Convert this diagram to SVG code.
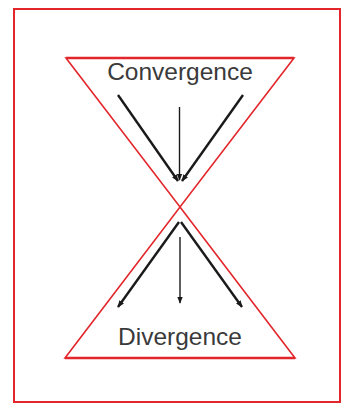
<svg xmlns="http://www.w3.org/2000/svg" width="342" height="405" viewBox="0 0 342 405">
<defs>
<style>
.red{fill:none;stroke:#e3262b;stroke-width:2;stroke-linejoin:miter}
.thin{fill:none;stroke:#e3262b;stroke-width:1.6}
.arr{fill:none;stroke:#1a1a1a;stroke-width:2.4;marker-end:url(#ah)}
.mid{fill:none;stroke:#1a1a1a;stroke-width:1.4;marker-end:url(#ah)}
.lbl{font-family:"Liberation Sans",Arial,sans-serif;font-size:24.5px;fill:#3a3a3a;text-anchor:middle}
</style>
<marker id="ah" viewBox="0 0 10 10" refX="9" refY="5" markerWidth="7" markerHeight="7" markerUnits="userSpaceOnUse" orient="auto">
<path d="M0,1 L10,5 L0,9 z" fill="#1a1a1a"/>
</marker>
</defs>
<rect x="0" y="0" width="342" height="405" fill="#ffffff"/>
<g id="frame"><rect class="red" x="14" y="9" width="326" height="393"/></g>
<g id="convergence">
<path class="thin" d="M66,58 L294,58 L180,207 Z"/>
<path d="M66,58 L294,58" stroke="#e3262b" stroke-width="2.4" fill="none"/>
<text class="lbl" x="180" y="80">Convergence</text>
</g>
<g id="divergence">
<path class="thin" d="M180,207 L295,358 L65,358 Z"/>
<path d="M295,358 L65,358" stroke="#e3262b" stroke-width="2.4" fill="none"/>
<text class="lbl" x="180" y="345">Divergence</text>
</g>
<g id="connectors">
<line class="arr" x1="118" y1="95" x2="178" y2="181"/>
<line class="arr" x1="243" y1="95" x2="182" y2="181"/>
<line class="mid" x1="179.5" y1="107" x2="179.5" y2="180"/>
<line class="arr" x1="179" y1="222" x2="118" y2="307"/>
<line class="arr" x1="181" y1="222" x2="242" y2="307"/>
<line class="mid" x1="180" y1="237" x2="180" y2="303"/>
</g>
</svg>
